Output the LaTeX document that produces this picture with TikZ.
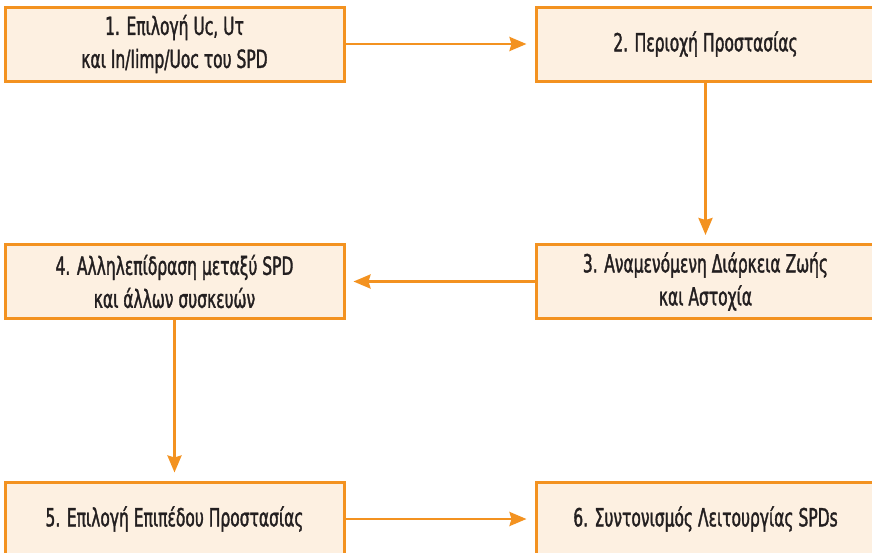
\documentclass[tikz,border=0pt]{standalone}
\usepackage{fontspec}
\setmainfont{DejaVu Sans}[FakeStretch=0.62,FakeBold=1.4]
\usetikzlibrary{arrows.meta,positioning}
\definecolor{boxline}{HTML}{F39220}
\definecolor{boxfill}{HTML}{FDF0E1}
\definecolor{boxtext}{HTML}{231F20}

\begin{document}
\begin{tikzpicture}[x=1pt,y=1pt,shorten >=8pt,node distance=237.5pt and 531pt,on grid]
       \tikzstyle{stage}=[draw=boxline, line width=3pt, fill=boxfill, text=boxtext,
              minimum width=339pt, minimum height=74pt, align=center,
              font=\fontsize{25}{33}\selectfont]
       \tikzstyle{flow}=[color=boxline, line width=2.8pt, -{Stealth[length=17pt,width=14pt,inset=2pt]}]

       \useasboundingbox (0,0) rectangle (872,-552);
       \clip (0,0) rectangle (872,-552);

       \node[stage] (s_1) at (174.5,-44) {1. Επιλογή Uc, Uτ\\και In/Iimp/Uoc του SPD};
       \node[stage] (s_2) [right=of s_1] {2. Περιοχή Προστασίας};
       \node[stage] (s_3) [below=of s_2] {3. Αναμενόμενη Διάρκεια Ζωής\\και Αστοχία};
       \node[stage] (s_4) [below=of s_1] {4. Αλληλεπίδραση μεταξύ SPD\\και άλλων συσκευών};
       \node[stage] (s_5) [below=of s_4] {5. Επιλογή Επιπέδου Προστασίας};
       \node[stage] (s_6) [right=of s_5] {6. Συντονισμός Λειτουργίας SPDs};

       \path[flow]
       (s_1) edge (s_2)
       (s_2) edge (s_3)
       (s_3) edge (s_4)
       (s_4) edge (s_5)
       (s_5) edge (s_6);
     \end{tikzpicture}
\end{document}
